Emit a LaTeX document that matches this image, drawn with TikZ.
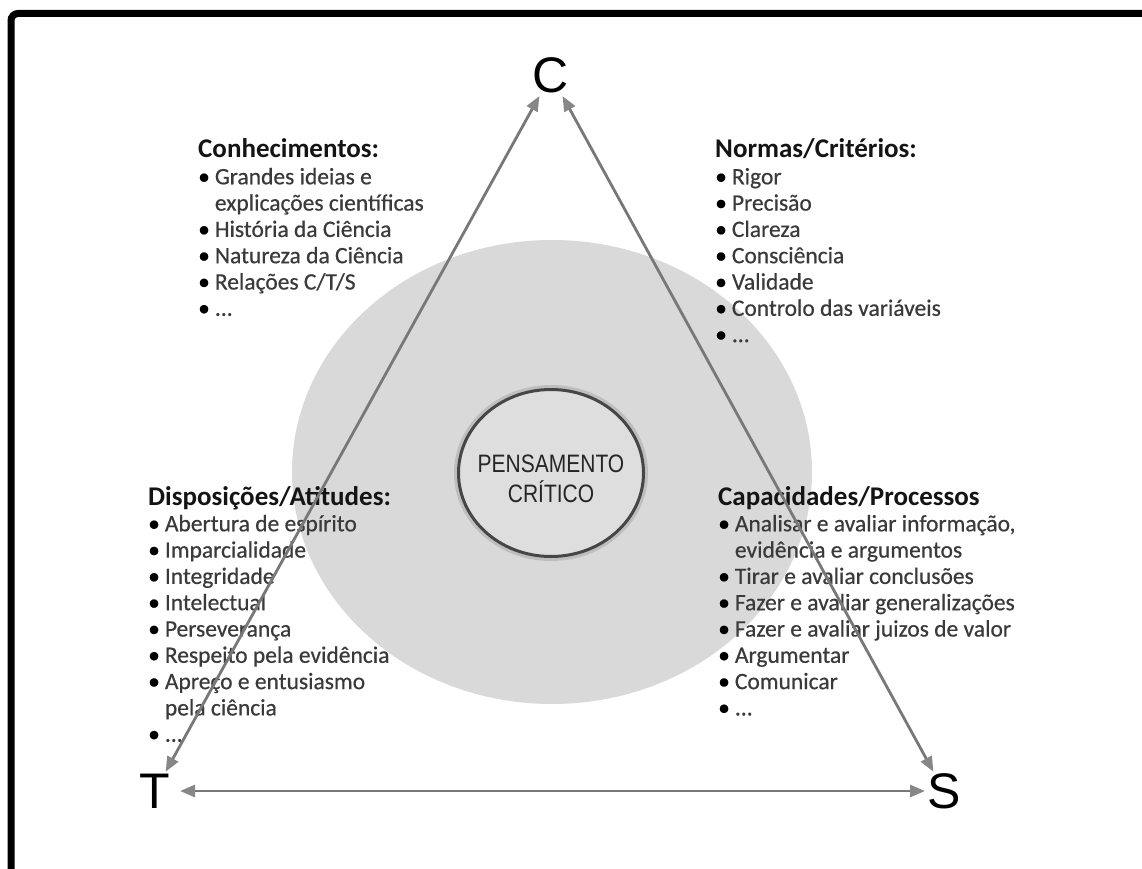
\documentclass[tikz,border=0pt]{standalone}
\usepackage{fontspec}
\setmainfont{Carlito}
\newfontfamily\itemfont{Carlito}[FakeBold=0.5]
\newfontfamily\arialf{Liberation Sans}
\usetikzlibrary{arrows.meta,calc,shapes.geometric}
\definecolor{arrowgray}{RGB}{120,120,120}
\definecolor{tipgray}{RGB}{135,135,135}
\definecolor{ellgray}{RGB}{217,217,217}
\definecolor{ringfill}{RGB}{222,222,222}
\definecolor{ringgray}{RGB}{70,70,70}
\definecolor{itemgray}{RGB}{58,58,58}
\definecolor{headblack}{RGB}{20,20,20}
\newcommand\bul{\textcolor{black}{•}}
\newcommand\hd[1]{\multicolumn{2}{@{}l@{}}{\textcolor{headblack}{\normalfont\bfseries\fontsize{27}{26.3}\selectfont #1}}}
\begin{document}
\begin{tikzpicture}[x=1pt,y=-1pt,
  letter/.style={font=\arialf\fontsize{50}{50}\selectfont, inner sep=0pt, text=black},
  block/.style={anchor=base west, inner sep=0pt, text=itemgray, font=\itemfont\fontsize{23.5}{26.3}\selectfont},
  link/.style={draw=arrowgray, line width=2.8pt, {Triangle[length=15pt,width=12pt,color=tipgray]}-{Triangle[length=15pt,width=12pt,color=tipgray]}},
  ring/.style={ellipse, minimum width=185pt, minimum height=167pt, inner sep=0pt, fill=ringfill, draw=ringgray, line width=3pt},
  ringtext/.style={text=black!85, align=center, inner sep=0pt, font=\arialf\fontsize{21}{30}\selectfont}
]
\useasboundingbox (0,0) rectangle (1142,869);
\fill[white] (0,0) rectangle (1142,869);
\begin{scope}
  \clip (0,0) rectangle (1142,869);
  \draw[line width=7pt, rounded corners=7pt] (11,900) -- (11,13.5) -- (1200,13.5);
\end{scope}

% big gray ellipse
\fill[ellgray] (552,472) ellipse [x radius=260pt, y radius=232pt];

% inner circle halo and circle
\draw[black!50, line width=9pt, opacity=0.3] (551,473) ellipse [x radius=92.5pt, y radius=83.5pt];
\node[ring] (pc) at (551,473) {};
\node[ringtext] (pctext) at (551,479) {\scalebox{1}[1.2]{PENSAMENTO}\\\scalebox{1}[1.2]{CRÍTICO}};

% text blocks
\node[block] (con) at (198,158) {\begin{tabular}[t]{@{}l@{\hspace{5pt}}l@{}}
\hd{Conhecimentos:}\\
\bul & Grandes ideias e\\
 & explicações científicas\\
\bul & História da Ciência\\
\bul & Natureza da Ciência\\
\bul & Relações C/T/S\\
\bul & ...
\end{tabular}};

\node[block] (nor) at (715,158) {\begin{tabular}[t]{@{}l@{\hspace{5pt}}l@{}}
\hd{Normas/Critérios:}\\
\bul & Rigor\\
\bul & Precisão\\
\bul & Clareza\\
\bul & Consciência\\
\bul & Validade\\
\bul & Controlo das variáveis\\
\bul & ...
\end{tabular}};

\node[block] (dis) at (148,505) {\begin{tabular}[t]{@{}l@{\hspace{5pt}}l@{}}
\hd{Disposições/Atitudes:}\\
\bul & Abertura de espírito\\
\bul & Imparcialidade\\
\bul & Integridade\\
\bul & Intelectual\\
\bul & Perseverança\\
\bul & Respeito pela evidência\\
\bul & Apreço e entusiasmo\\
 & pela ciência\\
\bul & ...
\end{tabular}};

\node[block] (cap) at (718,505) {\begin{tabular}[t]{@{}l@{\hspace{5pt}}l@{}}
\hd{Capacidades/Processos}\\
\bul & Analisar e avaliar informação,\\
 & evidência e argumentos\\
\bul & Tirar e avaliar conclusões\\
\bul & Fazer e avaliar generalizações\\
\bul & Fazer e avaliar juizos de valor\\
\bul & Argumentar\\
\bul & Comunicar\\
\bul & ...
\end{tabular}};

% corner letters
\node[letter] (C) at (551,75) {C};
\node[letter] (T) at (155,791) {T};
\node[letter] (S) at (944,791) {S};

% connectors
\draw[link] ($(T)!22pt!(C)$) -- ($(C)!24pt!(T)$);
\draw[link] ($(S)!22pt!(C)$) -- ($(C)!24pt!(S)$);
\draw[link] ($(T)!25pt!(S)$) -- ($(S)!19pt!(T)$);
\end{tikzpicture}
\end{document}
